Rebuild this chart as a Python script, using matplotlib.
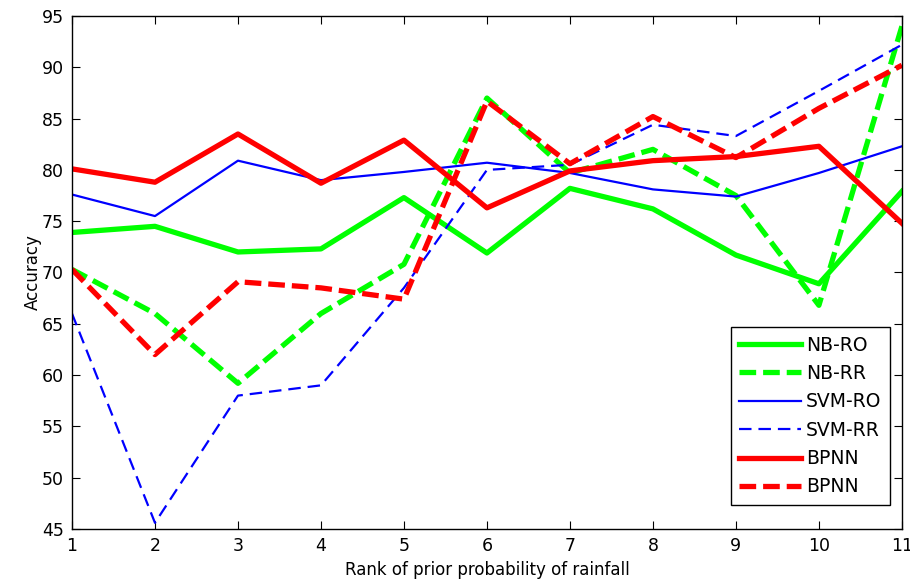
import matplotlib
matplotlib.use("Agg")
import matplotlib.pyplot as plt

plt.rcParams['font.family'] = ['DejaVu Sans']
plt.rcParams['lines.scale_dashes'] = False

rank = [1, 2, 3, 4, 5, 6, 7, 8, 9, 10, 11]

nb_ro = [73.9, 74.5, 72.0, 72.3, 77.3, 71.9, 78.2, 76.2, 71.7, 68.9, 77.9]
nb_rr = [70.3, 66.0, 59.2, 66.0, 70.8, 87.0, 79.7, 82.0, 77.5, 66.8, 94.0]
svm_ro = [77.6, 75.5, 80.9, 79.0, 79.8, 80.7, 79.7, 78.1, 77.4, 79.7, 82.3]
svm_rr = [66.0, 45.6, 58.0, 59.0, 68.5, 80.0, 80.5, 84.4, 83.3, 87.7, 92.2]
bp_ro = [80.1, 78.8, 83.5, 78.7, 82.9, 76.3, 79.9, 80.9, 81.3, 82.3, 74.8]
bp_rr = [70.3, 62.0, 69.1, 68.5, 67.4, 86.7, 80.6, 85.2, 81.2, 86.0, 90.2]

fig = plt.figure(figsize=(9.1, 5.84), dpi=100)
ax = fig.add_axes([0.0791, 0.0942, 0.912, 0.8784])

thick = 3.8
thin = 1.6
ax.plot(rank, nb_ro, color='#00ff00', lw=thick, label='NB-RO')
ax.plot(rank, nb_rr, color='#00ff00', lw=thick, dashes=(12, 5), label='NB-RR')
ax.plot(rank, svm_ro, color='#0000ff', lw=thin, label='SVM-RO')
ax.plot(rank, svm_rr, color='#0000ff', lw=thin, dashes=(9, 5), label='SVM-RR')
ax.plot(rank, bp_ro, color='#ff0000', lw=thick, label='BPNN')
ax.plot(rank, bp_rr, color='#ff0000', lw=thick, dashes=(12, 5), label='BPNN')

ax.set_xlim(1, 11)
ax.set_ylim(45, 95)
ax.set_xticks(rank)
ax.set_yticks(range(45, 96, 5))
ax.tick_params(direction='in', top=True, right=True, length=6, labelsize=12.5, pad=6)
for s in ax.spines.values():
    s.set_linewidth(1.0)

ax.set_xlabel('Rank of prior probability of rainfall', fontsize=12, labelpad=4)
ax.set_ylabel('Accuracy', fontsize=12, labelpad=0)

leg = ax.legend(loc='lower right', bbox_to_anchor=(0.9855, 0.047), fontsize=13.5,
                fancybox=False, framealpha=1, edgecolor='black', handlelength=3.3,
                handletextpad=0.25, labelspacing=0.5, borderpad=0.45, borderaxespad=0)
leg.get_frame().set_linewidth(1.0)

plt.savefig("out.png", dpi=100)
